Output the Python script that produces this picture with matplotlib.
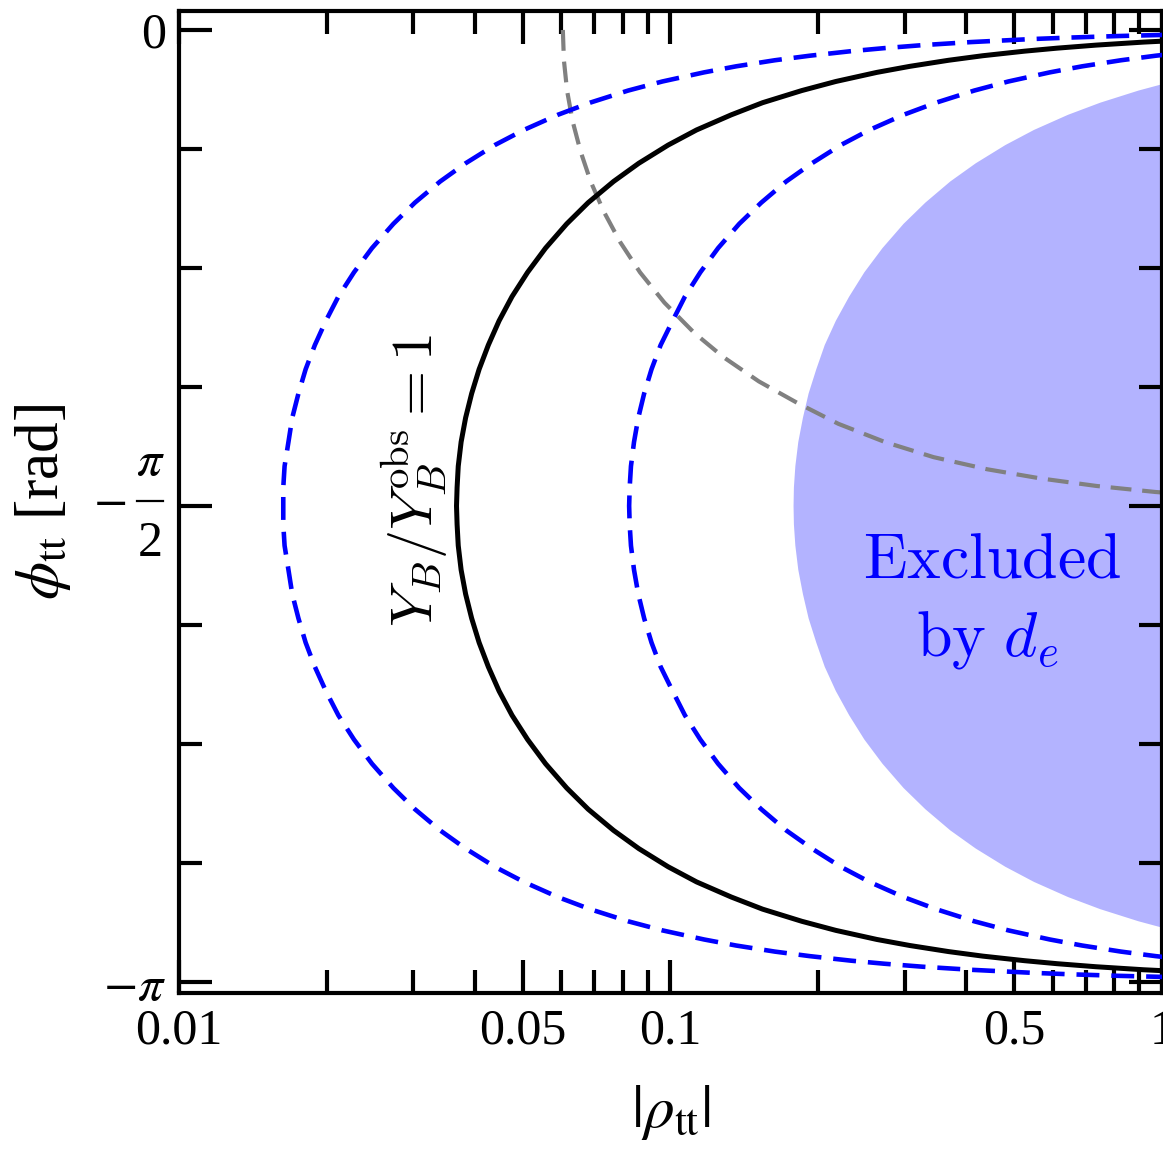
import numpy as np
import matplotlib
matplotlib.use("Agg")
import matplotlib.pyplot as plt
from matplotlib.ticker import FixedLocator, FixedFormatter, NullFormatter

plt.rcParams["font.family"] = ["Liberation Serif", "DejaVu Serif"]
plt.rcParams["mathtext.fontset"] = "stix"

PI = np.pi

# ---- data ----
# phase phi_tt (rad), shared by the closed contours
phi = [-0.010, -0.015, -0.020, -0.025, -0.030, -0.040, -0.050, -0.060, -0.070,
       -0.085, -0.100, -0.120, -0.140, -0.170, -0.200, -0.240, -0.280, -0.330,
       -0.380, -0.440, -0.500, -0.570, -0.640, -0.720, -0.800, -0.880, -0.960,
       -1.040, -1.120, -1.200, -1.280, -1.360, -1.440, -1.510, -1.571,
       -1.632, -1.702, -1.782, -1.862, -1.942, -2.022, -2.102, -2.182, -2.262,
       -2.342, -2.422, -2.502, -2.572, -2.642, -2.702, -2.762, -2.812, -2.862,
       -2.902, -2.942, -2.972, -3.002, -3.022, -3.042, -3.057, -3.072, -3.082,
       -3.092, -3.102, -3.112, -3.117, -3.122, -3.127, -3.132]

# outer blue dashed contour
rho_outer = [1.630, 1.087, 0.815, 0.652, 0.543, 0.408, 0.326, 0.272, 0.233,
             0.192, 0.163, 0.136, 0.117, 0.0963, 0.0820, 0.0686, 0.0590, 0.0503,
             0.0439, 0.0383, 0.0340, 0.0302, 0.0273, 0.0247, 0.0227, 0.0211,
             0.0199, 0.0189, 0.0181, 0.0175, 0.0170, 0.0167, 0.0164, 0.0163,
             0.0163,
             0.0163, 0.0164, 0.0167, 0.0170, 0.0175, 0.0181, 0.0189, 0.0199,
             0.0211, 0.0227, 0.0247, 0.0273, 0.0302, 0.0340, 0.0383, 0.0439,
             0.0503, 0.0590, 0.0686, 0.0820, 0.0963, 0.117, 0.136, 0.163, 0.192,
             0.233, 0.272, 0.326, 0.408, 0.543, 0.652, 0.815, 1.087, 1.630]

# Y_B / Y_B^obs = 1 (black)
rho_yb = [3.670, 2.447, 1.835, 1.468, 1.224, 0.918, 0.734, 0.612, 0.525,
          0.432, 0.368, 0.307, 0.263, 0.217, 0.185, 0.154, 0.133, 0.113,
          0.0989, 0.0862, 0.0766, 0.0680, 0.0615, 0.0557, 0.0512, 0.0476,
          0.0448, 0.0426, 0.0408, 0.0394, 0.0383, 0.0375, 0.0370, 0.0368,
          0.0367,
          0.0368, 0.0370, 0.0375, 0.0383, 0.0394, 0.0408, 0.0426, 0.0448,
          0.0476, 0.0512, 0.0557, 0.0615, 0.0680, 0.0766, 0.0862, 0.0989,
          0.113, 0.133, 0.154, 0.185, 0.217, 0.263, 0.307, 0.368, 0.432,
          0.525, 0.612, 0.734, 0.918, 1.224, 1.468, 1.835, 2.447, 3.670]

# inner blue dashed contour
rho_inner = [8.24, 5.49, 4.12, 3.30, 2.75, 2.06, 1.65, 1.37, 1.18,
             0.971, 0.825, 0.688, 0.591, 0.487, 0.415, 0.347, 0.298, 0.254,
             0.222, 0.194, 0.172, 0.153, 0.138, 0.125, 0.115, 0.107,
             0.101, 0.0955, 0.0915, 0.0884, 0.0860, 0.0843, 0.0831, 0.0826,
             0.0824,
             0.0826, 0.0831, 0.0843, 0.0860, 0.0884, 0.0915, 0.0955, 0.101,
             0.107, 0.115, 0.125, 0.138, 0.153, 0.172, 0.194, 0.222,
             0.254, 0.298, 0.347, 0.415, 0.487, 0.591, 0.688, 0.825, 0.971,
             1.18, 1.37, 1.65, 2.06, 2.75, 3.30, 4.12, 5.49, 8.24]

# left edge of the region excluded by d_e
rho_excl = [17.8, 11.9, 8.90, 7.12, 5.93, 4.45, 3.56, 2.97, 2.55,
            2.10, 1.78, 1.49, 1.28, 1.05, 0.896, 0.749, 0.644, 0.549,
            0.480, 0.418, 0.371, 0.330, 0.298, 0.270, 0.248, 0.231,
            0.217, 0.206, 0.198, 0.191, 0.186, 0.182, 0.1795, 0.1783,
            0.178,
            0.1783, 0.1795, 0.182, 0.186, 0.191, 0.198, 0.206, 0.217,
            0.231, 0.248, 0.270, 0.298, 0.330, 0.371, 0.418, 0.480,
            0.549, 0.644, 0.749, 0.896, 1.05, 1.28, 1.49, 1.78, 2.10,
            2.55, 2.97, 3.56, 4.45, 5.93, 7.12, 8.90, 11.9, 17.8]

# gray dashed curve
phi_gray = [0.0, -0.1, -0.2, -0.3, -0.4, -0.5, -0.6, -0.7, -0.8, -0.9, -1.0,
            -1.08, -1.16, -1.23, -1.3, -1.36, -1.41, -1.45, -1.48, -1.505,
            -1.525, -1.54]
rho_gray = [0.0604, 0.0607, 0.0616, 0.0632, 0.0656, 0.0688, 0.0732, 0.0790,
            0.0867, 0.0972, 0.1118, 0.1282, 0.1513, 0.1807, 0.2196, 0.273,
            0.343, 0.441, 0.565, 0.735, 0.970, 1.277]

x_major = [0.01, 0.05, 0.1, 0.5, 1]
x_major_labels = ["0.01", "0.05", "0.1", "0.5", "1"]
x_minor = [0.02, 0.03, 0.04, 0.06, 0.07, 0.08, 0.09,
           0.2, 0.3, 0.4, 0.6, 0.7, 0.8, 0.9]
y_major = [0, -PI / 2, -PI]
y_major_labels = ["0", "", r"$-\pi$"]   # -pi/2 is set by hand below
y_minor = [-k * PI / 8 for k in (1, 2, 3, 5, 6, 7)]

# ---- figure ----
fig = plt.figure(figsize=(11.63, 11.49), dpi=100)
ax = fig.add_axes([0.1539, 0.1358, 0.8452, 0.8542])

blue = "#0000ff"
dash = (0, (5.0, 2.6))
ax.fill_betweenx(phi, rho_excl, 100, color="#b3b3ff", lw=0, zorder=1)
ax.plot(rho_outer, phi, color=blue, lw=3.3, ls=dash, zorder=3)
ax.plot(rho_inner, phi, color=blue, lw=3.3, ls=dash, zorder=3)
ax.plot(rho_yb, phi, color="black", lw=3.6, zorder=4)
ax.plot(rho_gray, phi_gray, color="#808080", lw=3.0, ls=dash, zorder=2)

ax.set_xscale("log")
ax.set_xlim(0.01, 1)
ax.set_ylim(-PI - 0.037, 0.061)

ax.xaxis.set_major_locator(FixedLocator(x_major))
ax.xaxis.set_major_formatter(FixedFormatter(x_major_labels))
ax.xaxis.set_minor_locator(FixedLocator(x_minor))
ax.xaxis.set_minor_formatter(NullFormatter())
ax.yaxis.set_major_locator(FixedLocator(y_major))
ax.yaxis.set_major_formatter(FixedFormatter(y_major_labels))
ax.yaxis.set_minor_locator(FixedLocator(y_minor))

ax.tick_params(which="both", direction="in", top=True, right=True, width=3)
ax.tick_params(which="major", length=24, labelsize=36, pad=11)
ax.tick_params(which="minor", length=16.5)
ax.tick_params(axis="y", which="major", pad=9)
for s in ax.spines.values():
    s.set_linewidth(3)

# -pi/2 tick label in display style: minus, pi over a bar, 2
ytr = ax.get_yaxis_transform()
ax.text(-0.0702, -PI / 2 + 0.015, r"$-$", transform=ytr, fontsize=36,
        ha="center", va="center", clip_on=False)
ax.text(-0.0295, -1.427, r"$\pi$", transform=ytr, fontsize=36,
        ha="center", va="center", clip_on=False)
ax.plot([-0.0432, -0.0163], [-PI / 2 + 0.015] * 2, color="black", lw=1.6,
        transform=ytr, clip_on=False)
ax.text(-0.0295, -1.695, "2", transform=ytr, fontsize=36,
        ha="center", va="center", clip_on=False)

ax.set_xlabel(r"$|\rho_{\rm tt}|$", fontsize=44, labelpad=20)
ax.set_ylabel(r"$\phi_{\rm tt}$ [rad]", fontsize=44, labelpad=22)

ax.text(0.0302, -1.485, r"$Y_B/Y_B^{\rm obs} = 1$", rotation=90,
        fontsize=42, math_fontfamily="cm", ha="center", va="center")
ax.text(0.451, -1.759, r"$\mathrm{Excluded}$", fontsize=46,
        math_fontfamily="cm", color=blue, ha="center", va="center")
ax.text(0.44, -2.013, r"$\mathrm{by}\ d_e$", fontsize=46,
        math_fontfamily="cm", color=blue, ha="center", va="center")

fig.savefig("out.png", dpi=100)
